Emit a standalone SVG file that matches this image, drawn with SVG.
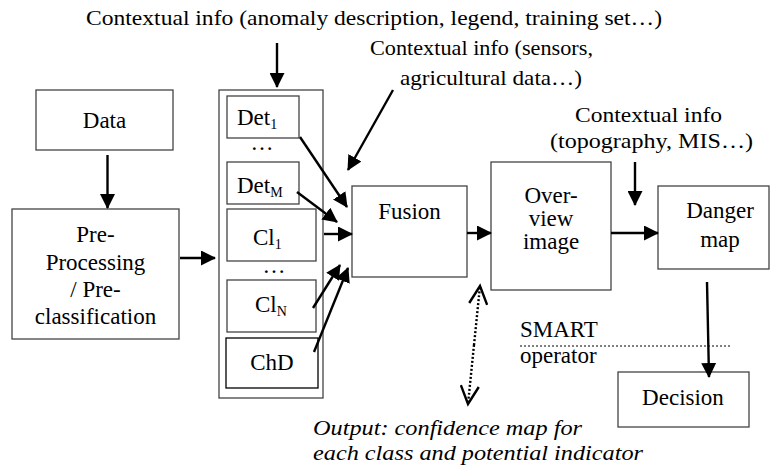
<svg xmlns="http://www.w3.org/2000/svg" width="770" height="466" viewBox="0 0 770 466">
<defs>
<style>
.c{text-anchor:middle}
.box{fill:#fff;stroke:#444;stroke-width:1.3}
.arr{stroke:#000;stroke-width:2.4;fill:none;marker-end:url(#ah)}
</style>
<marker id="ah" markerUnits="userSpaceOnUse" viewBox="0 0 15 15" refX="14" refY="7.5" markerWidth="15" markerHeight="15" orient="auto">
<path d="M0,0 L15,7.5 L0,15 z" fill="#000"/>
</marker>
<marker id="open" markerUnits="userSpaceOnUse" viewBox="0 0 24 20" refX="20" refY="10" markerWidth="24" markerHeight="20" orient="auto">
<path d="M2,1 L20,10 L2,19" fill="none" stroke="#000" stroke-width="2.4"/>
</marker>
</defs>
<rect width="770" height="466" fill="#fff"/>

<g id="labels">
<text x="374" y="25" class="c" font-family="Liberation Serif" font-size="22" textLength="576" lengthAdjust="spacingAndGlyphs">Contextual info (anomaly description, legend, training set…)</text>
<text x="481.5" y="55" class="c" font-family="Liberation Serif" font-size="22" textLength="223" lengthAdjust="spacingAndGlyphs">Contextual info (sensors,</text>
<text x="491" y="85" class="c" font-family="Liberation Serif" font-size="22" textLength="182" lengthAdjust="spacingAndGlyphs">agricultural data…)</text>
<text x="648.5" y="122" class="c" font-family="Liberation Serif" font-size="22" textLength="147" lengthAdjust="spacingAndGlyphs">Contextual info</text>
<text x="651.5" y="148" class="c" font-family="Liberation Serif" font-size="22" textLength="203" lengthAdjust="spacingAndGlyphs">(topography, MIS…)</text>
<text x="313" y="435" font-family="Liberation Serif" font-style="italic" font-size="22" textLength="269" lengthAdjust="spacingAndGlyphs">Output: confidence map for</text>
<text x="313" y="460" font-family="Liberation Serif" font-style="italic" font-size="22" textLength="330" lengthAdjust="spacingAndGlyphs">each class and potential indicator</text>
</g>

<g id="data">
<rect class="box" x="36" y="90" width="137" height="60"/>
<text x="104.5" y="128" class="c" font-family="Liberation Serif" font-size="23">Data</text>
</g>

<g id="preprocessing">
<rect class="box" x="12" y="209" width="167" height="130"/>
<text x="95.5" y="242" class="c" font-family="Liberation Serif" font-size="23">Pre-</text>
<text x="95.5" y="270" class="c" font-family="Liberation Serif" font-size="23">Processing</text>
<text x="95.5" y="297" class="c" font-family="Liberation Serif" font-size="23">/ Pre-</text>
<text x="95.5" y="324" class="c" font-family="Liberation Serif" font-size="23">classification</text>
</g>

<g id="modules">
<rect class="box" x="219" y="90" width="104" height="308"/>
<g id="det1">
<rect class="box" x="227" y="96" width="72" height="42"/>
<text x="237" y="125" font-family="Liberation Serif" font-size="23">Det<tspan font-size="14" dy="4">1</tspan></text>
</g>
<text x="262" y="150" class="c" font-family="Liberation Serif" font-size="23">…</text>
<g id="detM">
<rect class="box" x="227" y="162" width="72" height="42"/>
<text x="237" y="193" font-family="Liberation Serif" font-size="23">Det<tspan font-size="14" dy="4">M</tspan></text>
</g>
<g id="cl1">
<rect class="box" x="227" y="209" width="89" height="52"/>
<text x="253" y="245" font-family="Liberation Serif" font-size="23">Cl<tspan font-size="14" dy="4">1</tspan></text>
</g>
<text x="274" y="273" class="c" font-family="Liberation Serif" font-size="23">…</text>
<g id="clN">
<rect class="box" x="227" y="280" width="89" height="52"/>
<text x="255" y="312" font-family="Liberation Serif" font-size="23">Cl<tspan font-size="14" dy="4">N</tspan></text>
</g>
<g id="chd">
<rect x="226" y="338" width="92" height="50" fill="#fff" stroke="#000" stroke-width="1.3"/>
<text x="272" y="370" class="c" font-family="Liberation Serif" font-size="23">ChD</text>
</g>
</g>

<g id="fusion">
<rect class="box" x="352" y="186" width="115" height="91"/>
<text x="409.5" y="219" class="c" font-family="Liberation Serif" font-size="23">Fusion</text>
</g>

<g id="overview">
<rect class="box" x="491" y="162" width="120" height="128"/>
<text x="551" y="203" class="c" font-family="Liberation Serif" font-size="23">Over-</text>
<text x="551" y="226" class="c" font-family="Liberation Serif" font-size="23">view</text>
<text x="551" y="249" class="c" font-family="Liberation Serif" font-size="23">image</text>
</g>

<g id="danger">
<rect class="box" x="658" y="186" width="111" height="83"/>
<text x="720" y="218" class="c" font-family="Liberation Serif" font-size="23">Danger</text>
<text x="720" y="247" class="c" font-family="Liberation Serif" font-size="23">map</text>
</g>

<g id="decision">
<rect class="box" x="618" y="372" width="131" height="55"/>
<text x="683" y="405" class="c" font-family="Liberation Serif" font-size="23">Decision</text>
</g>

<g id="smart">
<text x="520" y="337" font-family="Liberation Serif" font-size="23">SMART</text>
<line x1="520" y1="346" x2="731" y2="346" stroke="#000" stroke-width="1" stroke-dasharray="2,2"/>
<text x="520" y="363" font-family="Liberation Serif" font-size="23">operator</text>
</g>

<g id="connectors">
<line class="arr" x1="277" y1="43" x2="277" y2="87"/>
<line class="arr" x1="393" y1="90" x2="348" y2="170"/>
<line class="arr" x1="107.5" y1="155" x2="107.5" y2="208"/>
<line class="arr" x1="180" y1="258" x2="215" y2="258"/>
<line class="arr" x1="300" y1="137" x2="347" y2="207"/>
<line class="arr" x1="297" y1="192" x2="337" y2="222"/>
<line class="arr" x1="324" y1="234" x2="352" y2="234"/>
<line class="arr" x1="313" y1="308" x2="340" y2="265"/>
<line class="arr" x1="314" y1="352" x2="348" y2="268"/>
<line class="arr" x1="467" y1="233" x2="491" y2="233"/>
<line class="arr" x1="611" y1="233" x2="658" y2="233"/>
<line class="arr" x1="635" y1="162" x2="635" y2="205"/>
<line class="arr" x1="707" y1="282" x2="709" y2="377"/>
<line x1="474" y1="345" x2="480" y2="286" stroke="#000" stroke-width="2.4" stroke-dasharray="2,2" marker-end="url(#open)"/>
<line x1="474" y1="345" x2="468" y2="404" stroke="#000" stroke-width="2.4" stroke-dasharray="2,2" marker-end="url(#open)"/>
</g>
</svg>
